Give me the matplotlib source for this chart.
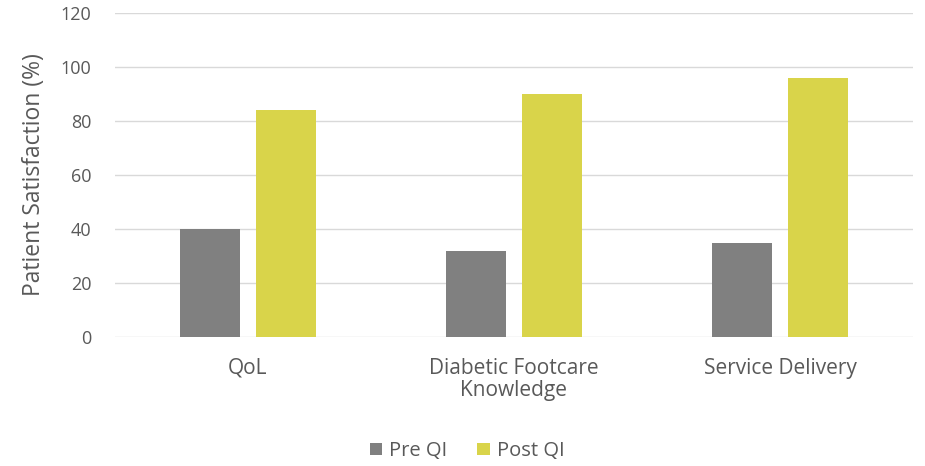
import numpy as np
import matplotlib.pyplot as plt

plt.rcParams['font.family'] = ['Open Sans', 'DejaVu Sans']

categories = ['QoL', 'Diabetic Footcare\nKnowledge', 'Service Delivery']
pre_qi = [40, 32, 35]
post_qi = [84, 90, 96]
yticks = [0, 20, 40, 60, 80, 100, 120]

text_col = '#595959'
fig = plt.figure(figsize=(9.25, 4.66), dpi=100)
ax = fig.add_axes([0.1243, 0.2768, 0.8627, 0.6953])

x = np.arange(len(categories))
w = 0.225
ax.bar(x - 0.143, pre_qi, w, color='#808080', label='Pre QI', zorder=3)
ax.bar(x + 0.143, post_qi, w, color='#d9d44a', label='Post QI', zorder=3)

ax.set_xlim(-0.5, 2.5)
ax.set_ylim(0, 120)
ax.set_yticks(yticks)
ax.grid(axis='y', color='#d9d9d9', linewidth=1, zorder=0)
for s in ax.spines.values():
    s.set_visible(False)
ax.tick_params(length=0, colors=text_col, labelsize=13)
ax.tick_params(axis='y', pad=17)
ax.tick_params(axis='x', pad=15)
ax.set_xticks(x)
ax.set_xticklabels(categories, fontsize=15, color=text_col, linespacing=1.05)

# y label placed by hand so it sits where the original one does
ax.set_ylabel('Patient Satisfaction (%)', fontsize=16.5, color=text_col)
ax.yaxis.label.set_va('center')
ax.yaxis.set_label_coords(-0.1015, 0.5)

fig.legend(loc='center', bbox_to_anchor=(0.505, 0.032), ncol=2, frameon=False,
           fontsize=14.5, handlelength=0.6, handleheight=0.6, handletextpad=0.35,
           columnspacing=1.5, labelcolor=text_col)

fig.savefig('out.png', dpi=100)
